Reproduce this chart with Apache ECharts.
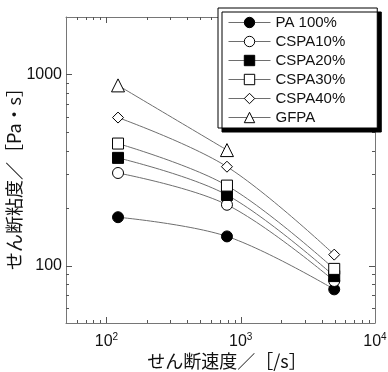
<!DOCTYPE html>
<html>
<head>
<meta charset="utf-8">
<script src="https://cdn.jsdelivr.net/npm/echarts@6/dist/echarts.min.js"></script>
<style>
  html, body { margin: 0; padding: 0; background: #fff; }
  #main { width: 388px; height: 372px; }
</style>
</head>
<body>
<div id="main"></div>
<script>
// shear rate [1/s]
var shearRate = [122, 790, 4970];
var gfpaRate = [122, 790];

// shear viscosity [Pa·s]
var pa100 = [179, 142, 75];
var cspa10 = [305, 208, 83];
var cspa20 = [366, 234, 88];
var cspa30 = [435, 262, 96];
var cspa40 = [595, 329, 114];
var gfpa = [877, 402];

var seriesNames = ['PA 100%', 'CSPA10%', 'CSPA20%', 'CSPA30%', 'CSPA40%', 'GFPA'];

// tick values of the log axes
var xMajor = [100, 1000];
var yMajor = [100, 1000];
var xMinor = [60, 70, 80, 90, 200, 300, 400, 500, 600, 700, 800, 900,
  2000, 3000, 4000, 5000, 6000, 7000, 8000, 9000];
var yMinor = [60, 70, 80, 90, 200, 300, 400, 500, 600, 700, 800, 900];

var FRAME = '#767676';
var TICK = '#555';
var LINE = '#6e6e6e';

function pairs(xs, ys) {
  return xs.map(function (x, i) { return [x, ys[i]]; });
}

function lineSeries(name, xs, ys, symbol, size, filled) {
  return {
    name: name,
    type: 'line',
    data: pairs(xs, ys),
    smooth: 0.35,
    symbol: symbol,
    symbolSize: size,
    lineStyle: { color: LINE, width: 1 },
    itemStyle: { color: filled ? '#000' : '#fff', borderColor: '#000', borderWidth: 1 },
    z: 3
  };
}

function isDecade(v) {
  var p = Math.log10(v);
  return Math.abs(p - Math.round(p)) < 1e-6;
}

// inward tick marks drawn through the axes' own scales
function tickSeries(values, isX, side, len) {
  return {
    type: 'custom',
    silent: true,
    clip: false,
    z: 4,
    data: values.map(function (v) { return isX ? [v, 100] : [100, v]; }),
    renderItem: function (params, api) {
      var cs = params.coordSys;
      var style = { stroke: TICK, lineWidth: 1 };
      if (isX) {
        var x = Math.round(api.coord([api.value(0), 100])[0]) + 0.5;
        var y0 = side === 'bottom' ? cs.y + cs.height : cs.y;
        var y1 = side === 'bottom' ? y0 - len : y0 + len;
        return { type: 'line', shape: { x1: x, y1: y0, x2: x, y2: y1 }, style: style };
      }
      var y = Math.round(api.coord([100, api.value(1)])[1]) + 0.5;
      var x0 = side === 'left' ? cs.x : cs.x + cs.width;
      var x1 = side === 'left' ? x0 + len : x0 - len;
      return { type: 'line', shape: { x1: x0, y1: y, x2: x1, y2: y }, style: style };
    }
  };
}

var axisLine = { show: true, lineStyle: { color: FRAME, width: 1 } };

var myChart = echarts.init(document.getElementById('main'));
myChart.setOption({
  animation: false,
  textStyle: { fontFamily: 'Liberation Sans, Arial, sans-serif' },
  grid: { left: 66, top: 17, right: 13, bottom: 49, containLabel: false, outerBoundsMode: 'none' },
  legend: {
    data: seriesNames,
    orient: 'vertical',
    left: 218,
    top: 8,
    padding: [7, 32, 3, 10],
    itemWidth: 42,
    itemHeight: 13,
    itemGap: 4,
    backgroundColor: '#fff',
    borderColor: '#000',
    borderWidth: 1,
    shadowColor: '#000',
    shadowBlur: 0,
    shadowOffsetX: 4,
    shadowOffsetY: 4,
    itemStyle: { borderWidth: 1 },
    lineStyle: { width: 1 },
    textStyle: { fontSize: 15, color: '#111', fontFamily: 'Liberation Sans, Arial, sans-serif' },
    z: 10
  },
  xAxis: [
    {
      type: 'log', min: 50, max: 10000, position: 'bottom',
      axisLine: axisLine, axisTick: { show: false }, splitLine: { show: false },
      axisLabel: {
        margin: 9,
        formatter: function (v) {
          if (!isDecade(v)) return '';
          return '{b|10}{s|' + Math.round(Math.log10(v)) + '}';
        },
        rich: {
          b: { fontSize: 16, color: '#111', verticalAlign: 'bottom', lineHeight: 18 },
          s: { fontSize: 10, color: '#111', verticalAlign: 'top', lineHeight: 18, padding: [0, 0, 8, 0] }
        }
      },
      name: 'せん断速度／［/s］', nameLocation: 'middle', nameGap: 29, nameMoveOverlap: false,
      nameTextStyle: { fontSize: 18, color: '#111', padding: [0, 0, 0, 13], fontFamily: 'Noto Sans CJK JP' }
    },
    {
      type: 'log', min: 50, max: 10000, position: 'top',
      axisLine: axisLine, axisTick: { show: false }, axisLabel: { show: false }, splitLine: { show: false }
    }
  ],
  yAxis: [
    {
      type: 'log', min: 50, max: 2000, position: 'left',
      axisLine: axisLine, axisTick: { show: false }, splitLine: { show: false },
      axisLabel: {
        margin: 4, fontSize: 16, color: '#111',
        formatter: function (v) { return isDecade(v) ? String(Math.round(v)) : ''; }
      },
      name: 'せん断粘度／［Pa・s］', nameLocation: 'middle', nameGap: 43, nameRotate: 90, nameMoveOverlap: false,
      nameTextStyle: { fontSize: 18, color: '#111', padding: [0, 9, 0, 0], fontFamily: 'Noto Sans CJK JP' }
    },
    {
      type: 'log', min: 50, max: 2000, position: 'right',
      axisLine: axisLine, axisTick: { show: false }, axisLabel: { show: false }, splitLine: { show: false }
    }
  ],
  series: [
    lineSeries(seriesNames[0], shearRate, pa100, 'circle', 11, true),
    lineSeries(seriesNames[1], shearRate, cspa10, 'circle', 11, false),
    lineSeries(seriesNames[2], shearRate, cspa20, 'rect', 11, true),
    lineSeries(seriesNames[3], shearRate, cspa30, 'rect', 11, false),
    lineSeries(seriesNames[4], shearRate, cspa40, 'diamond', 11, false),
    lineSeries(seriesNames[5], gfpaRate, gfpa, 'triangle', 13, false),
    tickSeries(xMajor, true, 'bottom', 6),
    tickSeries(xMajor, true, 'top', 6),
    tickSeries(xMinor, true, 'bottom', 3),
    tickSeries(xMinor, true, 'top', 3),
    tickSeries(yMajor, false, 'left', 6),
    tickSeries(yMajor, false, 'right', 6),
    tickSeries(yMinor, false, 'left', 3),
    tickSeries(yMinor, false, 'right', 3)
  ]
});
</script>
</body>
</html>
